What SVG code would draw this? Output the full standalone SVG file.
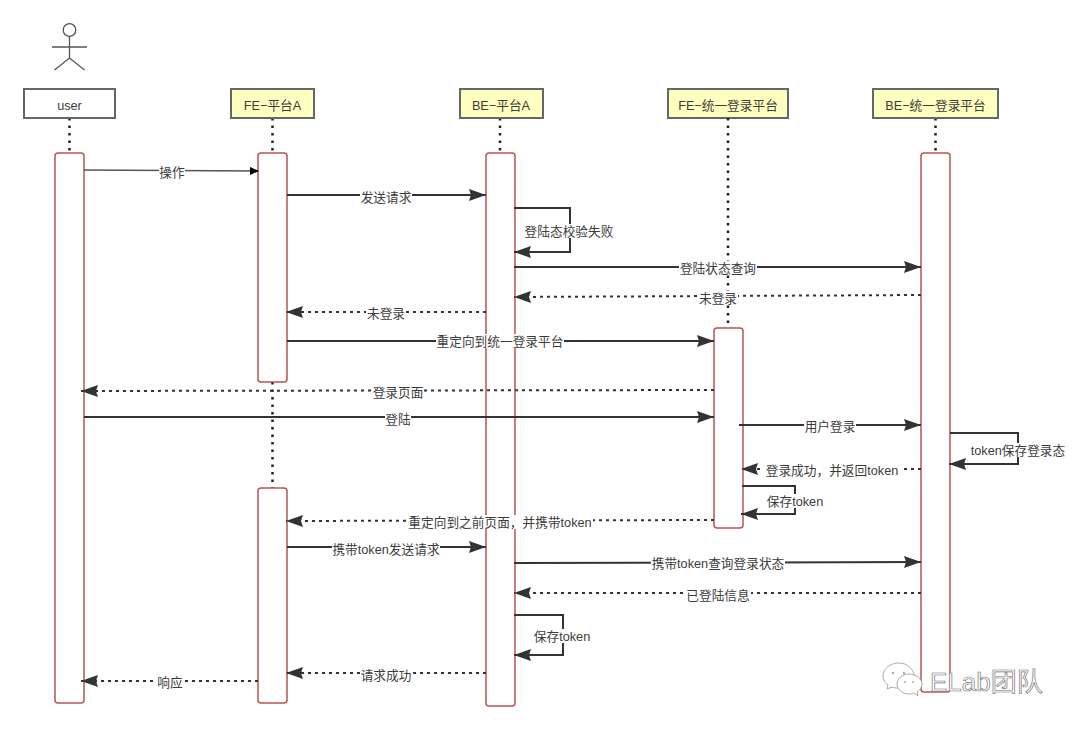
<svg xmlns="http://www.w3.org/2000/svg" width="1080" height="730" viewBox="0 0 1080 730">
<style>
text{font-family:"Liberation Sans","Noto Sans CJK SC",sans-serif;font-size:12.700px;fill:#3c3c3c;text-anchor:middle}
.box{stroke:#666;stroke-width:2}
.act{fill:#fff;stroke:#b85450;stroke-width:1.500}
.life{fill:none;stroke:#222;stroke-width:2.500;stroke-dasharray:2.500 5}
.m{fill:none;stroke:#333;stroke-width:2;marker-end:url(#a)}
.d{fill:none;stroke:#333;stroke-width:2;stroke-dasharray:3 4;marker-end:url(#a)}
.bg{fill:#fff;height:14px}
.wm{font-size:26px;fill:#fff;stroke:#777;stroke-width:.7px;text-anchor:start}
.bub{fill:#fff;stroke:#aaa;stroke-width:1}
</style>
<defs>
<marker id="a" markerUnits="userSpaceOnUse" markerWidth="18" markerHeight="14" refX="17" refY="7" orient="auto"><path d="M0 1 L17 7 L0 13 L2 7 Z" fill="#333"/></marker>
<marker id="b" markerUnits="userSpaceOnUse" markerWidth="10" markerHeight="8" refX="9" refY="4" orient="auto"><path d="M0 0 L9 4 L0 8 Z" fill="#000"/></marker>
</defs>
<rect width="1080" height="730" fill="#fff"/>
<g id="lifelines">
<path class="life" d="M69.500 118V153M272.500 118V153M272.500 382V488M500 118V153M935.500 118V153"/>
</g>
<g id="actor" fill="none" stroke="#555" stroke-width="1.300">
<circle cx="69.500" cy="30" r="6.300"/>
<path d="M69.500 36V58M52 47H87M54.500 70L69.500 58L84.500 70"/>
</g>
<g id="user"><rect class="box" x="24" y="89" width="91" height="29" fill="#fff"/><text x="69.500" y="110">user</text></g>
<g id="fe-a"><rect class="box" x="231" y="89" width="83" height="29" fill="#ffffc0"/><text x="272.500" y="110">FE−平台A</text></g>
<g id="be-a"><rect class="box" x="460" y="89" width="83" height="29" fill="#ffffc0"/><text x="501" y="110">BE−平台A</text></g>
<g id="fe-sso"><rect class="box" x="668" y="89" width="120" height="29" fill="#ffffc0"/><text x="728" y="110">FE−统一登录平台</text></g>
<g id="be-sso"><rect class="box" x="873" y="89" width="125" height="29" fill="#ffffc0"/><text x="935.500" y="110">BE−统一登录平台</text></g>
<g id="act-user"><rect class="act" x="55" y="153" width="29" height="550" rx="3"/></g>
<g id="act-fe-1"><rect class="act" x="258" y="153" width="29" height="229" rx="3"/></g>
<g id="act-fe-2"><rect class="act" x="258" y="488" width="29" height="215" rx="3"/></g>
<g id="act-be"><rect class="act" x="486" y="153" width="29" height="553" rx="3"/></g>
<g id="act-sso-fe"><rect class="act" x="714" y="328" width="29" height="200" rx="3"/></g>
<g id="act-sso-be"><rect class="act" x="921" y="153" width="29" height="539" rx="3"/></g>
<g id="connectors">
<path d="M84 170L259 171" fill="none" stroke="#555" stroke-width="1.500" marker-end="url(#b)"/>
<path class="m" d="M287 195H486"/>
<path class="m" d="M514 208H570V252H514"/>
<path class="m" d="M514 267H921"/>
<path class="d" d="M921 295L514 297"/>
<path class="d" d="M486 312H286"/>
<path class="m" d="M287 341H714"/>
<path class="d" d="M714 390L81 391"/>
<path class="m" d="M84 417H714"/>
<path class="m" d="M739 425H921"/>
<path class="m" d="M950 433H1018V464H949"/>
<path class="d" d="M921 469H741"/>
<path class="m" d="M742 486H795V514H741"/>
<path class="d" d="M714 520L286 521"/>
<path class="m" d="M287 547H486"/>
<path class="m" d="M514 563L921 562"/>
<path class="d" d="M921 593H514"/>
<path class="m" d="M514 615H563V655H514"/>
<path class="d" d="M486 673H286"/>
<path class="d" d="M258 681H81"/>
<path class="life" d="M728 118V328"/>
</g>
<g id="labels">
<rect class="bg" x="159" y="165" width="26"/><text x="172" y="177">操作</text>
<rect class="bg" x="360" y="190" width="52"/><text x="386" y="202">发送请求</text>
<rect class="bg" x="524" y="224" width="90"/><text x="569" y="236">登陆态校验失败</text>
<rect class="bg" x="679" y="261" width="78"/><text x="718" y="273">登陆状态查询</text>
<rect class="bg" x="698" y="291" width="40"/><text x="718" y="303">未登录</text>
<rect class="bg" x="366" y="306" width="40"/><text x="386" y="318">未登录</text>
<rect class="bg" x="436" y="334" width="128"/><text x="500" y="346">重定向到统一登录平台</text>
<rect class="bg" x="372" y="385" width="52"/><text x="398" y="397">登录页面</text>
<rect class="bg" x="385" y="412" width="26"/><text x="398" y="424">登陆</text>
<rect class="bg" x="804" y="419" width="52"/><text x="830" y="431">用户登录</text>
<rect class="bg" x="970" y="443" width="96"/><text x="1018" y="455">token保存登录态</text>
<rect class="bg" x="764" y="463" width="136"/><text x="832" y="475">登录成功，并返回token</text>
<rect class="bg" x="765" y="494" width="60"/><text x="795" y="506">保存token</text>
<rect class="bg" x="407" y="515" width="186"/><text x="500" y="527">重定向到之前页面，并携带token</text>
<rect class="bg" x="332" y="542" width="108"/><text x="386" y="554">携带token发送请求</text>
<rect class="bg" x="651" y="556" width="134"/><text x="718" y="568">携带token查询登录状态</text>
<rect class="bg" x="685" y="588" width="66"/><text x="718" y="600">已登陆信息</text>
<rect class="bg" x="532" y="629" width="60"/><text x="562" y="641">保存token</text>
<rect class="bg" x="360" y="668" width="52"/><text x="386" y="680">请求成功</text>
<rect class="bg" x="157" y="675" width="26"/><text x="170" y="687">响应</text>
</g>
<g id="watermark">
<path class="bub" d="M899 663c-9 0-16 6-16 13 0 4 2 7 5 9l-1 4 5-2c2 1 4 1 7 1 9 0 15-6 15-12s-6-13-15-13z"/>
<path class="bub" d="M909 674c-7 0-12 5-12 10s5 10 12 10c2 0 3 0 5-1l4 3-1-4c3-2 5-5 5-8 0-5-6-10-13-10z"/>
<g fill="#aaa"><circle cx="893" cy="673" r="1.200"/><circle cx="904" cy="673" r="1.200"/><circle cx="905" cy="682" r="1"/><circle cx="913" cy="682" r="1"/></g>
<text class="wm" x="930" y="691">ELab团队</text>
</g>
</svg>
